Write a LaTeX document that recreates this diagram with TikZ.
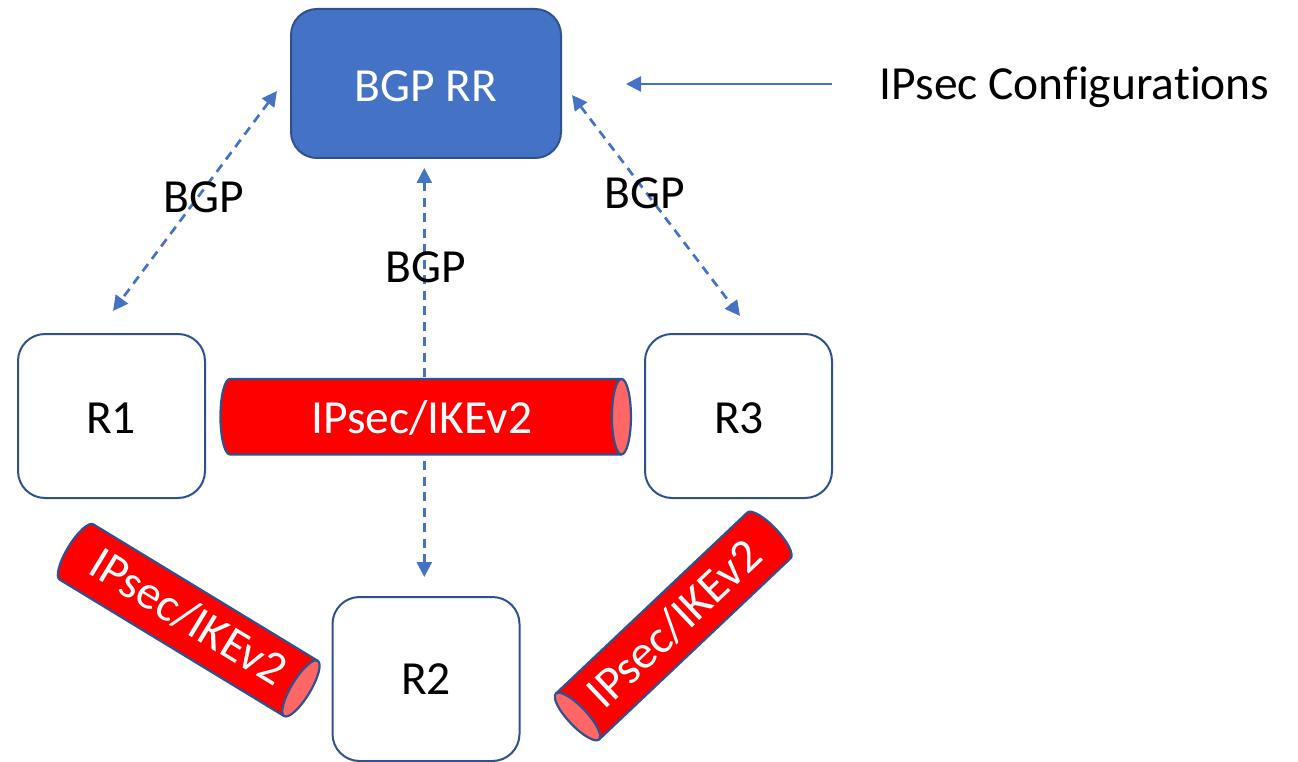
\documentclass[tikz,border=0pt]{standalone}
\usepackage{fontspec}
\setmainfont{Carlito}[Ligatures=NoCommon]
\usetikzlibrary{arrows.meta}
\definecolor{edgeblue}{HTML}{2F528F}
\definecolor{fillblue}{HTML}{4472C4}
\definecolor{tubered}{HTML}{FF0000}
\definecolor{tubeend}{HTML}{FF6666}
\tikzset{
  router/.style={draw=edgeblue,line width=2pt,fill=white,rounded corners=27pt,minimum width=187pt,minimum height=164pt,inner sep=0pt},
  rr/.style={draw=edgeblue,line width=2pt,fill=fillblue,rounded corners=26pt,minimum width=270pt,minimum height=149pt,inner sep=0pt},
  lbl/.style={inner sep=0pt,font=\fontsize{47.5}{57}\selectfont},
  tubelbl/.style={inner sep=0pt,text=white,font=\fontsize{47.5}{57}\selectfont},
  bgplink/.style={draw=fillblue,line width=2.7pt,dash pattern=on 9pt off 6.5pt,{Triangle[length=15pt,width=15pt]}-{Triangle[length=15pt,width=15pt]}},
  cfglink/.style={draw=fillblue,line width=2.7pt,-{Triangle[length=15pt,width=15pt]}},
  tubeline/.style={draw=edgeblue,line width=2.2pt,line join=round}
}
% name, cx, cy, angle, length between end centres, diameter, side of open end, label offset
\newcommand{\tube}[8]{%
  \begin{scope}[shift={(#2,#3)},rotate=#4]
    \begin{scope}[xscale=#7]
      \path[tubeline,fill=tubered] (-#5/2,#6/2) -- (#5/2,#6/2) -- (#5/2,-#6/2) -- (-#5/2,-#6/2)
        arc[start angle=270,end angle=90,x radius=9.5,y radius=#6/2] -- cycle;
      \path[tubeline,fill=tubeend] (#5/2,0) ellipse[x radius=9.5,y radius=#6/2];
    \end{scope}
    \node[tubelbl,rotate=#4] (#1) at (#8) {IPsec/IKEv2};
  \end{scope}}
\begin{document}
\begin{tikzpicture}[x=1pt,y=1pt]
\useasboundingbox (0,0) rectangle (1298,-762);
% free ends
\coordinate (rrL) at (277,-91);
\coordinate (r1T) at (113,-311);
\coordinate (rrR) at (572,-95);
\coordinate (r3T) at (740,-316);
\coordinate (rrB) at (424.3,-168);
\coordinate (r2T) at (424.3,-577);
\coordinate (cfgS) at (832,-84);
\coordinate (cfgE) at (626,-84);
% connectors under the shapes
\draw[bgplink] (rrB) -- (r2T);
\node[rr] (rr) at (426,-83.5) {};
\node[router] (r1) at (111.5,-416) {};
\node[router] (r3) at (738.5,-416) {};
\node[router] (r2) at (426,-679) {};
\tube{t1}{425.7}{-416.7}{0}{391.5}{75.5}{1}{-4,-1}
\tube{t2}{188.7}{-620.2}{-31.3}{262.7}{64.7}{1}{-2,3}
\tube{t3}{673.2}{-626}{43.4}{263.5}{63}{-1}{2,1}
\draw[bgplink] (rrL) -- (r1T);
\draw[bgplink] (rrR) -- (r3T);
\draw[cfglink] (cfgS) -- (cfgE);
\node[lbl,text=white] (rrtext) at (426,-86) {BGP RR};
\node[lbl] (r1text) at (111,-418) {R1};
\node[lbl] (r3text) at (739,-418) {R3};
\node[lbl] (r2text) at (426,-679) {R2};
\node[lbl] (bgp1) at (203.5,-197) {BGP};
\node[lbl] (bgp2) at (645,-193) {BGP};
\node[lbl] (bgp3) at (426,-267) {BGP};
\node[lbl,anchor=west] (cfg) at (879.5,-87) {IPsec Configurations};
\end{tikzpicture}
\end{document}
